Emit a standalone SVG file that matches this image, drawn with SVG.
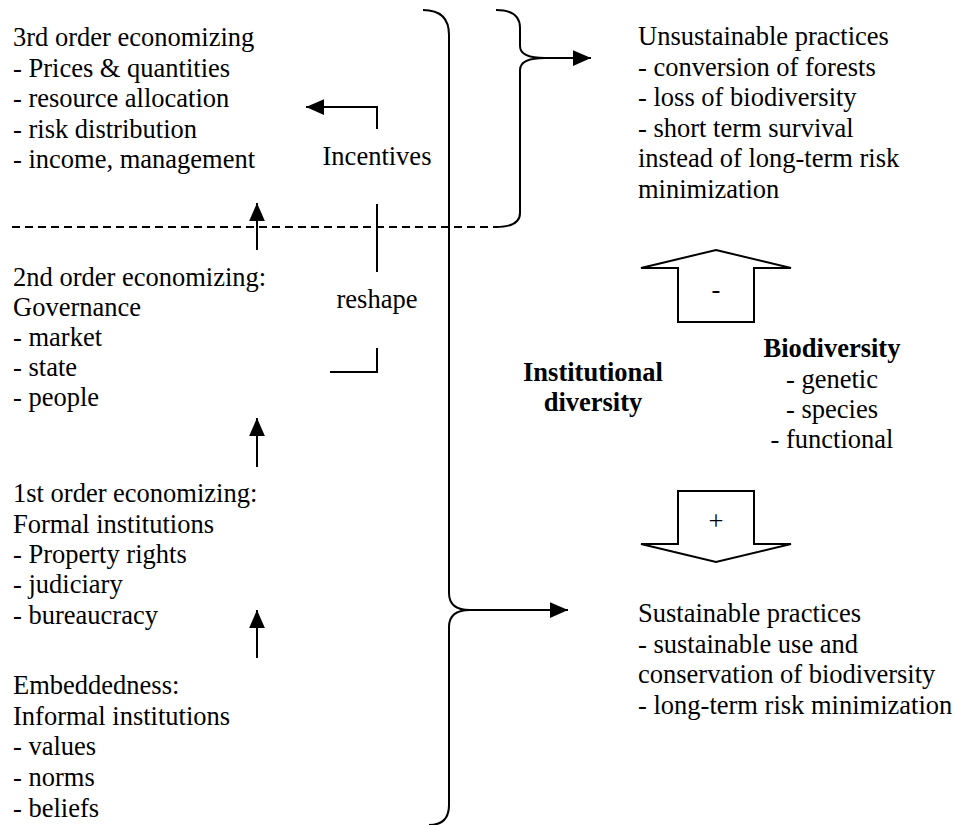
<svg xmlns="http://www.w3.org/2000/svg" width="956" height="825" viewBox="0 0 956 825">
<defs>
<marker id="ah" markerUnits="userSpaceOnUse" markerWidth="18" markerHeight="16" viewBox="0 0 16 14" refX="16" refY="7" orient="auto">
<path d="M0,0 L16,7 L0,14 Z" fill="#000"/>
</marker>
<style>
text{font-family:"Liberation Serif","Times New Roman",serif;font-size:26.5px;fill:#000}
.b{font-weight:bold}
.m{text-anchor:middle}
.ln{fill:none;stroke:#000;stroke-width:2}
.ar{fill:none;stroke:#000;stroke-width:2;marker-end:url(#ah)}
.blk{fill:#fff;stroke:#000;stroke-width:2;stroke-linejoin:miter}
</style>
</defs>
<rect width="956" height="825" fill="#fff"/>

<g id="third-order">
<text x="13" y="46">3rd order economizing</text>
<text x="13" y="76.5">- Prices &amp; quantities</text>
<text x="13" y="107">- resource allocation</text>
<text x="13" y="137.5">- risk distribution</text>
<text x="13" y="168">- income, management</text>
</g>
<g id="second-order">
<text x="13" y="285.5">2nd order economizing:</text>
<text x="13" y="315.5">Governance</text>
<text x="13" y="346">- market</text>
<text x="13" y="376">- state</text>
<text x="13" y="406">- people</text>
</g>
<g id="first-order">
<text x="13" y="502">1st order economizing:</text>
<text x="13" y="532.5">Formal institutions</text>
<text x="13" y="563">- Property rights</text>
<text x="13" y="593">- judiciary</text>
<text x="13" y="623.5">- bureaucracy</text>
</g>
<g id="embeddedness">
<text x="13" y="694">Embeddedness:</text>
<text x="13" y="724.5">Informal institutions</text>
<text x="13" y="755">- values</text>
<text x="13" y="786">- norms</text>
<text x="13" y="816.5">- beliefs</text>
</g>
<g id="incentives"><text class="m" x="377" y="165">Incentives</text></g>
<g id="reshape"><text class="m" x="377" y="308">reshape</text></g>

<g id="unsustainable">
<text x="638" y="45">Unsustainable practices</text>
<text x="638" y="75.5">- conversion of forests</text>
<text x="638" y="106">- loss of biodiversity</text>
<text x="638" y="136.5">- short term survival</text>
<text x="638" y="167">instead of long-term risk</text>
<text x="638" y="197.5">minimization</text>
</g>
<g id="sustainable">
<text x="638" y="622">Sustainable practices</text>
<text x="638" y="652.5">- sustainable use and</text>
<text x="638" y="683">conservation of biodiversity</text>
<text x="638" y="713.5">- long-term risk minimization</text>
</g>
<g id="institutional-diversity">
<text class="b m" x="593" y="381">Institutional</text>
<text class="b m" x="593" y="411">diversity</text>
</g>
<g id="biodiversity">
<text class="b m" x="832" y="357">Biodiversity</text>
<text class="m" x="832" y="387.5">- genetic</text>
<text class="m" x="832" y="418">- species</text>
<text class="m" x="832" y="448">- functional</text>
</g>
<g id="minus-arrow">
<polygon class="blk" points="716,250 791,268 754,268 754,322 678,322 678,268 641,268"/>
<text class="m" x="716" y="298">-</text>
</g>
<g id="plus-arrow">
<polygon class="blk" points="678,491 754,491 754,544 791,544 716,562 641,544 678,544"/>
<text class="m" x="716" y="530">+</text>
</g>

<g id="connectors">
<path class="ln" d="M423,10 Q449,10 449,35 V593 Q449,610 470,610 Q449,610 449,627 V805 Q449,825 429,825"/>
<path class="ar" d="M470,610 H568"/>
<path class="ln" d="M496,10 Q520,10 520,28 V46 Q520,58 545,58 Q520,58 520,70 V213 Q520,227 496,227"/>
<path class="ar" d="M545,58 H591"/>
<path class="ln" d="M12,227 H496" stroke-dasharray="8 5"/>
<path class="ar" d="M257,250 V203"/>
<path class="ar" d="M257,467 V418"/>
<path class="ar" d="M257,658 V610"/>
<path class="ar" d="M377,129 V107 H306"/>
<path class="ln" d="M377,204 V272"/>
<path class="ln" d="M377,348 V372 H330"/>
</g>
</svg>
